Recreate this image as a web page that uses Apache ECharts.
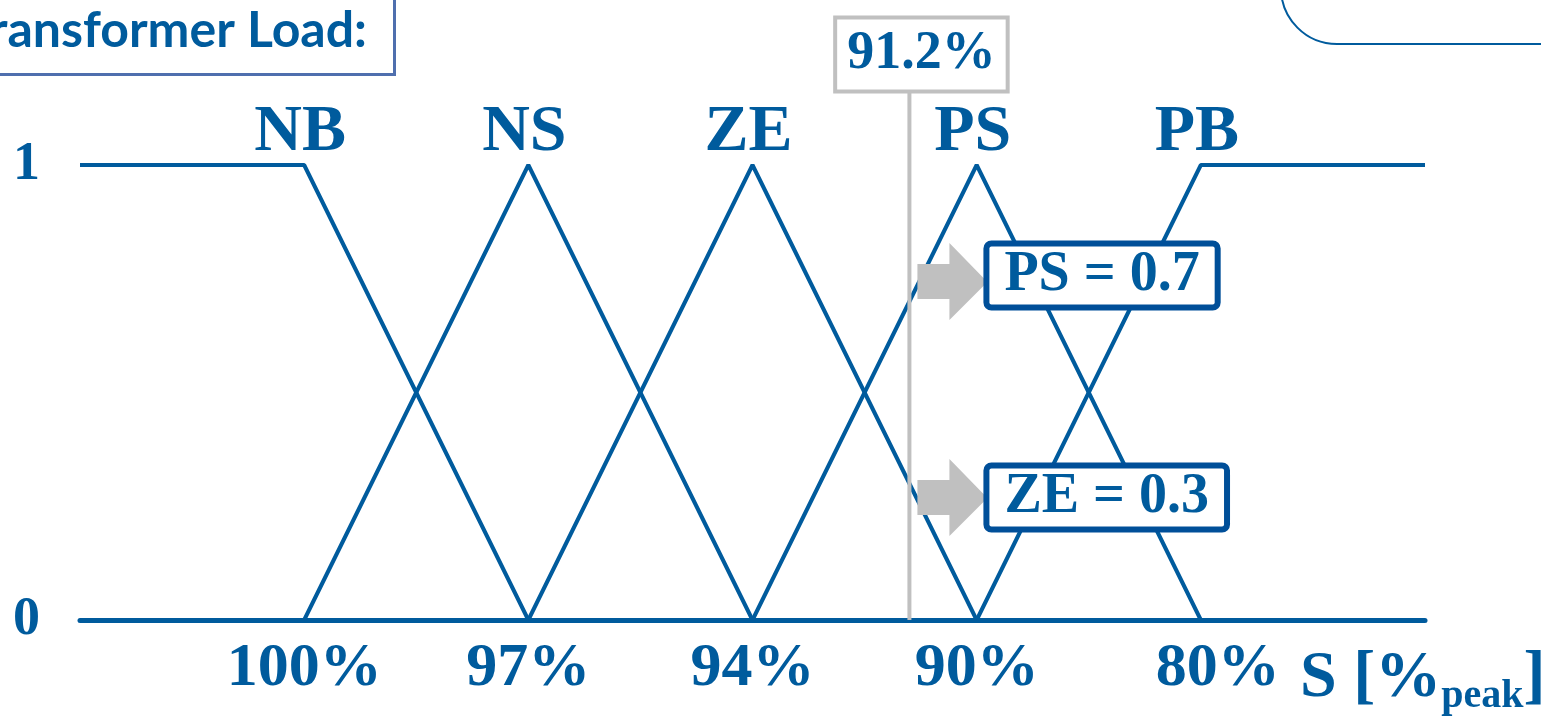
<!DOCTYPE html>
<html>
<head>
<meta charset="utf-8">
<script src="https://cdn.jsdelivr.net/npm/echarts@6/dist/echarts.min.js"></script>
<style>
  html, body { margin: 0; padding: 0; background: #fff; }
  #chart { width: 1541px; height: 727px; }
</style>
</head>
<body>
<div id="chart"></div>
<script>
// tick labels on the load axis (equally spaced, not linear)
const loadLabels = ['100%', '97%', '94%', '90%', '80%'];
const loadValues = [100, 97, 94, 90, 80];

// fuzzy sets: [axis index, membership]
const setNames = ['NB', 'NS', 'ZE', 'PS', 'PB'];
const nbPoints = [[-1, 1], [0, 1], [1, 0]];
const nsPoints = [[0, 0], [1, 1], [2, 0]];
const zePoints = [[1, 0], [2, 1], [3, 0]];
const psPoints = [[2, 0], [3, 1], [4, 0]];
const pbPoints = [[3, 0], [4, 1], [5, 1]];
const setPeaks = [0, 1, 2, 3, 4];

// measured load and resulting memberships
const currentLoad = 91.2;
const memberships = [['PS', 0.7], ['ZE', 0.3]];

const blue = '#005b9d';
const boxBlue = '#004f99';
const grey = '#c0c0c0';
const serif = '"Liberation Serif", "Times New Roman", serif';

// place a load value between the equally spaced ticks
function loadToIndex(v) {
  for (let i = 0; i < loadValues.length - 1; i++) {
    const a = loadValues[i], b = loadValues[i + 1];
    if ((v <= a && v >= b)) return i + (a - v) / (a - b);
  }
  return 0;
}
const loadIdx = loadToIndex(currentLoad);

const chart = echarts.init(document.getElementById('chart'));

const setSeries = [nbPoints, nsPoints, zePoints, psPoints, pbPoints].map((pts, k) => ({
  type: 'line',
  name: setNames[k],
  symbol: 'circle',
  symbolSize: 1,
  showSymbol: true,
  itemStyle: { color: 'rgba(0,0,0,0)' },
  z: 2,
  lineStyle: { color: blue, width: 4 },
  data: pts.map(p => {
    if (p[0] === setPeaks[k] && p[1] === 1) {
      return {
        value: p,
        label: {
          show: true, position: 'top', distance: -1, offset: [-4, 0],
          formatter: setNames[k],
          color: blue, fontFamily: serif, fontWeight: 'bold', fontSize: 66
        }
      };
    }
    return p;
  })
}));

const arrowPath = 'path://M0,21 L32,21 L32,0 L70,39 L32,77 L32,56 L0,56 Z';

chart.setOption({
  animation: false,
  backgroundColor: '#fff',
  grid: { left: 80, right: 116, top: 165, bottom: 107, containLabel: false, outerBoundsMode: 'none' },
  xAxis: {
    type: 'value', min: -1, max: 5, interval: 1,
    axisLine: { show: true, lineStyle: { color: blue, width: 5 }, onZero: false },
    axisTick: { show: false },
    splitLine: { show: false },
    axisLabel: {
      margin: 18,
      color: blue, fontFamily: serif, fontWeight: 'bold', fontSize: 62,
      formatter: v => {
        if (v < 0 || v >= loadLabels.length) return '';
        return v === loadLabels.length - 1 ? '{e|' + loadLabels[v] + '}' : loadLabels[v];
      },
      rich: {
        e: { color: blue, fontFamily: serif, fontWeight: 'bold', fontSize: 62, padding: [0, 0, 0, 34] }
      }
    },
    name: '{a|S [%}{p|peak}{a|]}',
    nameLocation: 'end',
    nameGap: -125,
    nameTextStyle: {
      align: 'left', verticalAlign: 'top', padding: [24, 0, 0, 0],
      rich: {
        a: { color: blue, fontFamily: serif, fontWeight: 'bold', fontSize: 66, lineHeight: 70 },
        p: { color: blue, fontFamily: serif, fontWeight: 'bold', fontSize: 40, lineHeight: 70, padding: [36, 0, 0, 0] }
      }
    }
  },
  yAxis: {
    type: 'value', min: 0, max: 1, interval: 1,
    axisLine: { show: false },
    axisTick: { show: false },
    splitLine: { show: false },
    axisLabel: {
      margin: 40,
      color: blue, fontFamily: serif, fontWeight: 'bold', fontSize: 54
    }
  },
  graphic: [
    {
      type: 'rect', left: -10, top: -10, z: 10,
      shape: { width: 403, height: 83 },
      style: { fill: '#fff', stroke: '#4f6fae', lineWidth: 3 }
    },
    {
      type: 'text', z: 11,
      x: 367, y: 31,
      style: {
        text: 'Transformer Load:', align: 'right', verticalAlign: 'middle',
        fill: blue, font: 'bold 50px Lato, "Open Sans", sans-serif'
      }
    },
    {
      type: 'rect', z: 10, x: 1281, y: -120,
      shape: { width: 400, height: 164, r: 56 },
      style: { fill: 'none', stroke: blue, lineWidth: 2 }
    }
  ],
  series: setSeries.concat([
    {
      type: 'line',
      name: 'load',
      symbol: 'circle',
      symbolSize: 1,
      showSymbol: true,
      itemStyle: { color: 'rgba(0,0,0,0)' },
      clip: false,
      z: 3,
      lineStyle: { color: grey, width: 4 },
      data: [
        [loadIdx, 0],
        {
          value: [loadIdx, 1.165],
          label: {
            show: true, position: 'top', distance: 0, offset: [12, 0],
            formatter: currentLoad + '%',
            color: blue, fontFamily: serif, fontWeight: 'bold', fontSize: 54, lineHeight: 58,
            backgroundColor: '#fff', borderColor: grey, borderWidth: 4,
            padding: [6, 10, 6, 10]
          }
        }
      ]
    },
    {
      type: 'scatter',
      name: 'memberships',
      z: 4,
      symbol: arrowPath,
      symbolKeepAspect: false,
      symbolSize: [70, 77],
      itemStyle: { color: grey, opacity: 1 },
      data: memberships.map((m, i) => ({
        value: [loadIdx, m[1]],
        symbolOffset: i === 0 ? [43, -20] : [43, 14],
        label: {
          show: true, position: 'right', distance: 2,
          offset: i === 0 ? [0, -6] : [0, 0],
          formatter: m[0] + ' = ' + m[1],
          color: blue, fontFamily: serif, fontWeight: 'bold', fontSize: 56, lineHeight: 56,
          backgroundColor: '#fff', borderColor: boxBlue, borderWidth: 6, borderRadius: 2,
          padding: [1, 15, 1, 15]
        }
      }))
    }
  ])
});
</script>
</body>
</html>
